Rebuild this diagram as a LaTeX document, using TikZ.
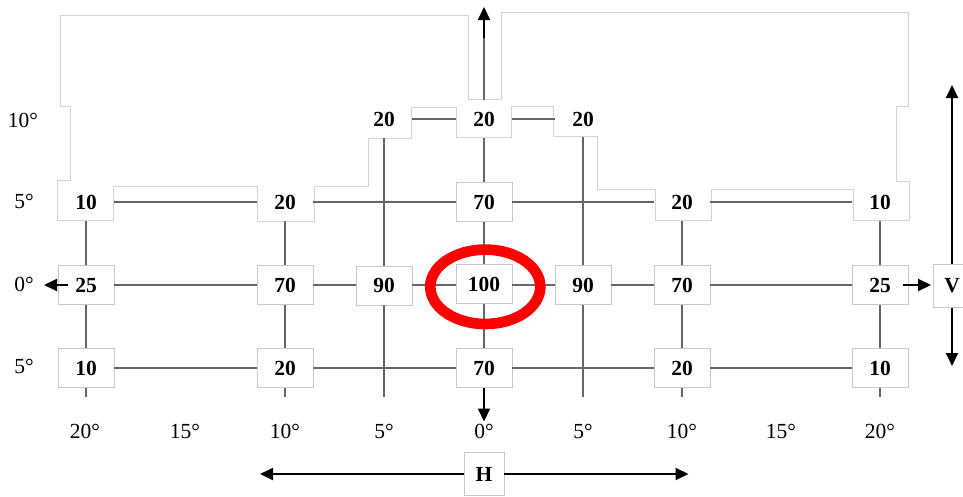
\documentclass[tikz,border=0pt]{standalone}
\usepackage{fontspec}
\setmainfont{Liberation Serif}
\usetikzlibrary{arrows.meta}
\definecolor{boxgray}{HTML}{C8C8C8}
\definecolor{polygray}{HTML}{D4D4D4}
\definecolor{gridgray}{HTML}{666666}
\newcommand\valfont{\fontsize{21.5}{25}\selectfont\bfseries}
\newcommand\degfont{\fontsize{21.5}{25}\selectfont}
\begin{document}
\begin{tikzpicture}[x=1pt,y=-1pt,
  valbox/.style={draw=boxgray, fill=white, line width=0.8pt, minimum width=56pt, minimum height=39pt, inner sep=0pt, font=\valfont},
  bare/.style={draw=none, fill=none, minimum width=56pt, minimum height=38pt, inner sep=0pt, font=\valfont},
  gridline/.style={draw=gridgray, line width=2.2pt},
  arr/.style={draw=black, line width=2pt, -{Triangle[length=13pt,width=12pt]}},
  deg/.style={font=\degfont, inner sep=0pt}]
\useasboundingbox (0,0) rectangle (963,496);

% white outline region
\draw[polygray, fill=white, line width=0.8pt]
  (60.5,15.3) -- (468.3,15.3) -- (468.3,99) -- (501,99) -- (501,12.7) -- (908.3,12.7)
  -- (908.3,106.3) -- (896.7,106.3) -- (896.7,181.7) -- (909.3,181.7) -- (909.3,220)
  -- (853.3,220) -- (853.3,189.3) -- (711.7,189.3) -- (711.7,220) -- (655,220)
  -- (655,189.3) -- (597.3,189.3) -- (597.3,136.7) -- (553.3,136.7) -- (553.3,106.7)
  -- (511,106.7) -- (511,137.7) -- (456,137.7) -- (456,107) -- (411.7,107)
  -- (411.7,138.3) -- (368.3,138.3) -- (368.3,186.7) -- (314,186.7) -- (314,221)
  -- (257.3,221) -- (257.3,186.7) -- (113.3,186.7) -- (113.3,220) -- (57.3,220)
  -- (57.3,180.7) -- (70.7,180.7) -- (70.7,106.7) -- (60.5,106.7) -- cycle;

% 10 degree row
\node[bare] (t1) at (384,119) {20};
\node[bare] (t0) at (484,119) {20};
\node[bare] (t2) at (583,119) {20};
% 5 degree row
\node[bare] (a1) at (86,202) {10};
\node[bare] (a2) at (285,202) {20};
\node[valbox] (a0) at (484,202) {70};
\node[bare] (a3) at (682,202) {20};
\node[bare] (a4) at (880,202) {10};
% 0 degree row
\node[valbox] (b1) at (86,285) {25};
\node[valbox] (b2) at (285,285) {70};
\node[valbox] (b3) at (384,285.5) {90};
\node[valbox] (b0) at (484,284) {100};
\node[valbox] (b4) at (583,285) {90};
\node[valbox] (b5) at (682,285) {70};
\node[valbox] (b6) at (880,285) {25};
% -5 degree row
\node[valbox] (c1) at (86,368) {10};
\node[valbox] (c2) at (285,368) {20};
\node[valbox] (c0) at (484,368) {70};
\node[valbox] (c3) at (682,368) {20};
\node[valbox] (c4) at (880,368) {10};
% axis boxes
\node[valbox, minimum width=38pt, minimum height=43pt] (V) at (952,285.7) {V};
\node[valbox, minimum width=40pt, minimum height=43pt] (H) at (484,474) {H};

% free ends
\coordinate (e1) at (86,397);
\coordinate (e2) at (285,397);
\coordinate (e3) at (384,397);
\coordinate (e4) at (583,397);
\coordinate (e5) at (682,397);
\coordinate (e6) at (880,397);
\coordinate (topmid) at (484,38);
\coordinate (toptip) at (484,7);
\coordinate (bottip) at (484,421.5);
\coordinate (lefttip) at (44,285);
\coordinate (righttip) at (931,285);
\coordinate (vtop) at (952,85);
\coordinate (vbot) at (952,366);
\coordinate (hleft) at (260,474);
\coordinate (hright) at (688.5,474);

% horizontal grid lines
\draw[gridline] (t1) -- (t0) -- (t2);
\draw[gridline] (a1) -- (a2) -- (a0) -- (a3) -- (a4);
\draw[gridline] (b1.east) -- (b2.west) (b2.east) -- (b3.west |- b2.east) (b3.east |- b2.east) -- (b0.west |- b2.east) (b0.east |- b2.east) -- (b4.west) (b4.east) -- (b5.west) (b5.east) -- (b6.west);
\draw[gridline] (c1) -- (c2) -- (c0) -- (c3) -- (c4);
% vertical grid lines
\draw[gridline] (a1) -- (b1) -- (c1) -- (e1);
\draw[gridline] (a2) -- (b2) -- (c2) -- (e2);
\draw[gridline] (384,138.3) -- (b3) -- (e3);
\draw[gridline] (t0) -- (a0) -- (b0) -- (c0);
\draw[gridline] (t0.north) -- (topmid);
\draw[gridline] (583,136.7) -- (b4) -- (e4);
\draw[gridline] (a3) -- (b5) -- (c3) -- (e5);
\draw[gridline] (a4) -- (b6) -- (c4) -- (e6);

% black arrows
\draw[arr] (topmid) -- (toptip);
\draw[arr] (c0) -- (bottip);
\draw[arr] ([xshift=10pt]b1.west) -- (lefttip);
\draw[arr] ([xshift=-5pt]b6.east) -- (righttip);
\draw[arr] (V) -- (vtop);
\draw[arr] (V) -- (vbot);
\draw[arr] (H) -- (hleft);
\draw[arr] (H) -- (hright);

% red ellipse
\draw[red, line width=10.7pt] (485.3,286.8) ellipse [x radius=55pt, y radius=37.2pt];

% degree labels, left
\node[deg] (l10) at (23,120.5) {10°};
\node[deg] (l5) at (24,201) {5°};
\node[deg] (l0) at (24,284) {0°};
\node[deg] (lm5) at (24,366) {5°};
% degree labels, bottom
\node[deg] (d1) at (85,431.5) {20°};
\node[deg] (d2) at (185,431.5) {15°};
\node[deg] (d3) at (285,431.5) {10°};
\node[deg] (d4) at (384,431.5) {5°};
\node[deg] (d5) at (484,431.5) {0°};
\node[deg] (d6) at (583,431.5) {5°};
\node[deg] (d7) at (682,431.5) {10°};
\node[deg] (d8) at (781,431.5) {15°};
\node[deg] (d9) at (880,431.5) {20°};
\end{tikzpicture}
\end{document}
